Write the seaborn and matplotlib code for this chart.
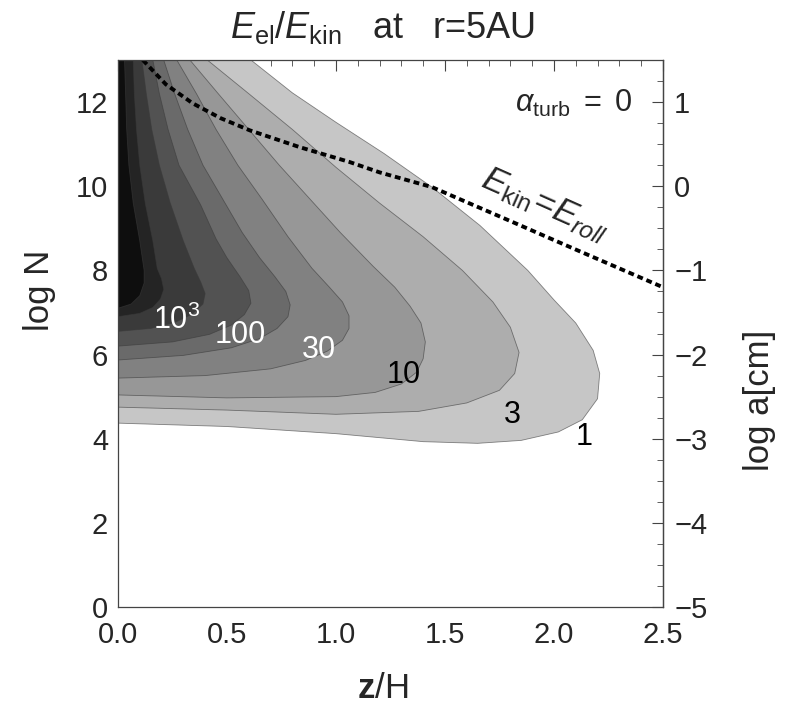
import numpy as np
import matplotlib
matplotlib.use("Agg")
import matplotlib.pyplot as plt
from matplotlib.ticker import MultipleLocator
import seaborn as sns

# contour levels of E_el/E_kin (outermost first) and their grey shades
levels = [1, 3, 10, 30, 100, 300, 1000, 3000, 10000]
shades = ['#c6c6c6', '#adadad', '#979797', '#818181', '#6a6a6a',
          '#525252', '#3a3a3a', '#242424', '#0e0e0e']

# contour paths, (z/H, log N):
# from the left edge, round the nose, up to the top edge
c1_x = [0.00, 0.50, 1.00, 1.40, 1.65, 1.85, 2.02, 2.13, 2.20, 2.21, 2.18, 2.10, 2.00, 1.88, 1.66, 1.44, 1.22, 1.00, 0.80, 0.61]
c1_y = [4.37, 4.29, 4.12, 3.93, 3.89, 3.96, 4.16, 4.45, 4.95, 5.55, 6.10, 6.75, 7.30, 8.00, 9.07, 9.98, 10.78, 11.52, 12.22, 13.00]
c3_x = [0.00, 0.50, 1.00, 1.38, 1.60, 1.75, 1.82, 1.84, 1.80, 1.72, 1.58, 1.40, 1.20, 1.00, 0.80, 0.60, 0.41]
c3_y = [4.75, 4.68, 4.58, 4.65, 4.85, 5.15, 5.55, 6.05, 6.65, 7.25, 8.00, 8.80, 9.60, 10.45, 11.35, 12.20, 13.00]
c10_x = [0.00, 0.50, 1.00, 1.18, 1.30, 1.37, 1.40, 1.41, 1.39, 1.34, 1.27, 1.17, 1.02, 0.88, 0.74, 0.60, 0.46, 0.33]
c10_y = [5.04, 4.97, 5.00, 5.10, 5.30, 5.58, 5.90, 6.30, 6.75, 7.15, 7.60, 8.10, 8.90, 9.70, 10.50, 11.35, 12.20, 13.00]
c30_x = [0.00, 0.40, 0.70, 0.86, 0.96, 1.03, 1.06, 1.06, 1.03, 0.97, 0.89, 0.78, 0.66, 0.55, 0.45, 0.36, 0.27]
c30_y = [5.44, 5.50, 5.66, 5.86, 6.08, 6.34, 6.62, 6.92, 7.25, 7.60, 8.05, 8.80, 9.70, 10.50, 11.35, 12.20, 13.00]
c100_x = [0.00, 0.30, 0.52, 0.65, 0.73, 0.78, 0.79, 0.77, 0.72, 0.65, 0.57, 0.48, 0.39, 0.32, 0.26, 0.21]
c100_y = [5.87, 5.98, 6.16, 6.38, 6.62, 6.90, 7.18, 7.50, 7.85, 8.30, 8.90, 9.70, 10.50, 11.35, 12.20, 13.00]
c300_x = [0.00, 0.25, 0.42, 0.52, 0.58, 0.61, 0.60, 0.56, 0.50, 0.45, 0.38, 0.28, 0.23, 0.19, 0.16]
c300_y = [6.20, 6.30, 6.48, 6.70, 6.95, 7.22, 7.52, 7.85, 8.30, 8.75, 9.55, 10.50, 11.35, 12.20, 13.00]
c1000_x = [0.00, 0.15, 0.26, 0.34, 0.39, 0.40, 0.38, 0.35, 0.30, 0.24, 0.19, 0.155, 0.13, 0.11]
c1000_y = [6.55, 6.62, 6.76, 6.96, 7.20, 7.45, 7.72, 8.05, 8.70, 9.60, 10.50, 11.35, 12.20, 13.00]
c3000_x = [0.00, 0.10, 0.16, 0.195, 0.21, 0.20, 0.18, 0.16, 0.125, 0.10, 0.085, 0.075, 0.07]
c3000_y = [6.90, 6.98, 7.12, 7.32, 7.55, 7.80, 8.05, 8.70, 9.60, 10.50, 11.35, 12.20, 13.00]
c10000_x = [0.00, 0.06, 0.10, 0.12, 0.12, 0.10, 0.07, 0.05, 0.04, 0.035, 0.03]
c10000_y = [7.10, 7.20, 7.40, 7.70, 8.00, 8.70, 9.60, 10.50, 11.35, 12.20, 13.00]

# E_kin = E_roll line
roll_x = [0.114, 0.22, 0.343, 0.47, 0.604, 0.833, 1.06, 1.20, 1.44, 1.81, 2.12, 2.50]
roll_y = [13.0, 12.42, 11.97, 11.62, 11.33, 10.93, 10.58, 10.33, 9.98, 9.15, 8.45, 7.60]

# contour labels
lab_text = ['$10^3$', '100', '30', '10', '3', '1']
lab_x = [0.27, 0.56, 0.92, 1.31, 1.81, 2.14]
lab_y = [6.82, 6.46, 6.10, 5.51, 4.56, 4.04]
lab_col = ['white', 'white', 'white', 'black', 'black', 'black']

paths = [(c1_x, c1_y), (c3_x, c3_y), (c10_x, c10_y), (c30_x, c30_y),
         (c100_x, c100_y), (c300_x, c300_y), (c1000_x, c1000_y),
         (c3000_x, c3000_y), (c10000_x, c10000_y)]

sns.set_theme(style="white")
plt.rcParams['font.family'] = ['Liberation Sans', 'DejaVu Sans']
plt.rcParams['mathtext.fontset'] = 'custom'
plt.rcParams['mathtext.rm'] = 'Liberation Sans'
plt.rcParams['mathtext.it'] = 'Liberation Sans:italic'
plt.rcParams['mathtext.bf'] = 'Liberation Sans:bold'

xmin, xmax, ymin, ymax = 0.0, 2.5, 0.0, 13.0
frame = '#444444'

fig = plt.figure(figsize=(7.88, 7.06), dpi=100)
ax = fig.add_axes([0.1497, 0.1402, 0.6916, 0.7748])

for (px, py), col in zip(paths, shades):
    ax.fill(np.r_[px, xmin], np.r_[py, ymax], color=col, lw=0)
    ax.plot(px, py, color='#3a3a3a', lw=0.6, alpha=0.6)

sns.lineplot(x=roll_x, y=roll_y, ax=ax, color='black', lw=2.8,
             dashes=False, sort=False)
ax.lines[-1].set_dashes((1.5, 1.0))

for t, x, y, c in zip(lab_text, lab_x, lab_y, lab_col):
    ax.text(x, y, t, color=c, fontsize=22, ha='center', va='center')

ax.text(2.09, 11.97, r'$\alpha_{\mathrm{turb}}$ $=$ 0', fontsize=22,
        ha='center', va='center')
ax.text(1.96, 9.55, r'$E_{\mathrm{kin}}\!=\!E_{roll}$', fontsize=25,
        ha='center', va='center', rotation=-24)

ax.set_xlim(xmin, xmax)
ax.set_ylim(ymin, ymax)
ax.set_xticks(np.arange(0, 2.51, 0.5))
ax.set_yticks(np.arange(0, 13, 2))
ax.xaxis.set_minor_locator(MultipleLocator(0.1))
ax.yaxis.set_minor_locator(MultipleLocator(0.5))
ax.tick_params(which='both', direction='in', top=True, right=False,
               color=frame, labelsize=21)
ax.tick_params(axis='x', pad=10)
ax.tick_params(axis='y', pad=7)
ax.tick_params(which='major', length=8, width=0.8)
ax.tick_params(which='minor', length=4, width=0.6)
for s in ax.spines.values():
    s.set_color(frame)
    s.set_linewidth(0.9)

ax2 = ax.secondary_yaxis('right', functions=(lambda n: (n - 10) / 2,
                                             lambda a: 2 * a + 10))
ax2.set_yticks(np.arange(-5, 2, 1))
ax2.yaxis.set_minor_locator(MultipleLocator(0.25))
ax2.tick_params(which='both', direction='in', color=frame, labelsize=21, pad=8)
ax2.tick_params(which='major', length=8, width=0.8)
ax2.tick_params(which='minor', length=4, width=0.6)
ax2.spines['right'].set_color(frame)
ax2.spines['right'].set_linewidth(0.9)

fig.text(383 / 788, 1 - 688 / 706, r'$\mathbf{z}$/H', fontsize=25,
         ha='center', va='center')
fig.text(40 / 788, 1 - 290 / 706, 'log N', fontsize=25, rotation=90,
         ha='center', va='center')
fig.text(760 / 788, 1 - 400 / 706, 'log a[cm]', fontsize=25, rotation=90,
         ha='center', va='center')

fig.text(383 / 788, 1 - 27 / 706,
         r'$E_{\mathrm{el}}/E_{\mathrm{kin}}$   at   r=5AU',
         fontsize=26, ha='center', va='center')

fig.savefig('out.png', dpi=100)
